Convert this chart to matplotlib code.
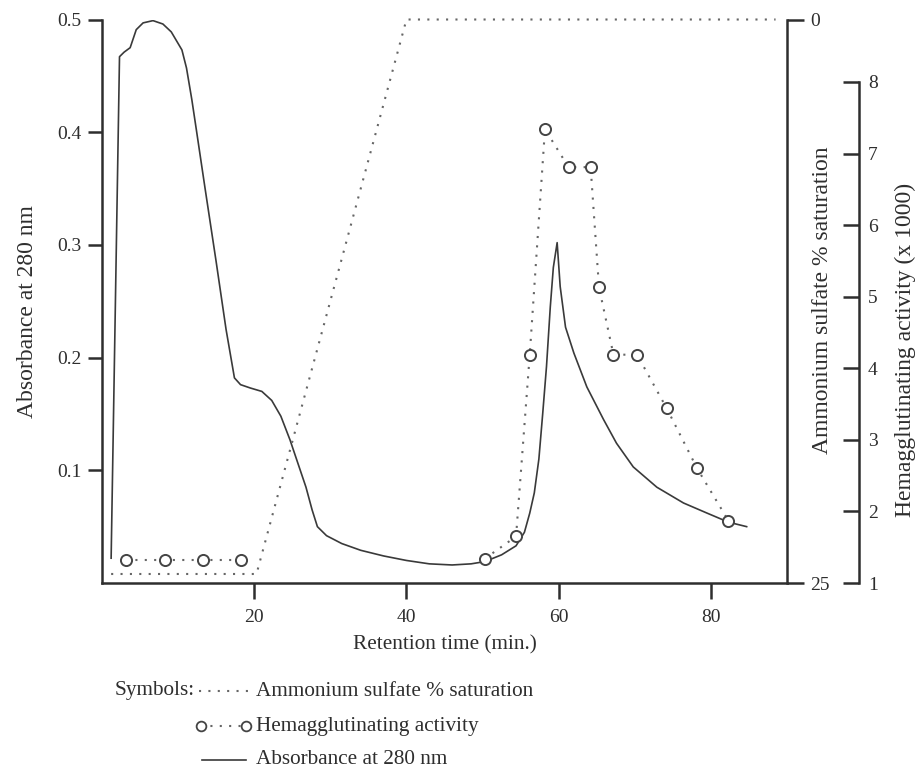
import matplotlib
matplotlib.use("Agg")
import matplotlib.pyplot as plt
from matplotlib.lines import Line2D

plt.rcParams['font.family'] = ['Liberation Serif', 'DejaVu Serif']

# ---------------- data ----------------
abs_time = [1.2, 2.3, 2.9, 3.7, 4.5, 5.4, 6.7, 8.0, 9.1, 10.5, 11.1, 11.8, 12.4,
            13.5, 15.0, 16.3, 17.4, 18.2, 19.5, 21.0, 22.3, 23.5, 24.7, 25.8,
            26.8, 27.6, 28.3, 29.5, 31.5, 34.0, 37.0, 40.0, 43.0, 46.0, 48.5,
            50.3, 52.5, 54.4, 55.5, 56.2, 56.8, 57.4, 57.9, 58.4, 58.9, 59.3,
            59.8, 60.2, 60.9, 62.0, 63.7, 65.9, 67.6, 69.8, 72.9, 76.4, 79.5,
            82.3, 84.7]
absorbance = [0.022, 0.467, 0.471, 0.475, 0.491, 0.497, 0.499, 0.496, 0.489,
              0.473, 0.457, 0.429, 0.402, 0.352, 0.285, 0.225, 0.182, 0.176,
              0.173, 0.170, 0.162, 0.148, 0.127, 0.105, 0.085, 0.065, 0.050,
              0.042, 0.035, 0.029, 0.024, 0.020, 0.017, 0.016, 0.017, 0.019,
              0.025, 0.033, 0.045, 0.062, 0.080, 0.110, 0.150, 0.192, 0.245,
              0.280, 0.302, 0.263, 0.227, 0.204, 0.174, 0.145, 0.124, 0.103,
              0.085, 0.071, 0.062, 0.054, 0.050]

sulfate_time = [1.2, 20.3, 40.0, 88.5]
sulfate_sat = [24.6, 24.6, 0.0, 0.0]

# hemagglutinating activity: two separately connected groups of fractions
ha_time_early = [3.2, 8.3, 13.3, 18.3]
ha_activity_early = [1.32, 1.32, 1.32, 1.32]
ha_time_late = [50.3, 54.4, 56.2, 58.2, 61.3, 64.2, 65.3, 67.2, 70.3, 74.2,
                78.2, 82.3]
ha_activity_late = [1.34, 1.65, 4.19, 7.34, 6.81, 6.81, 5.13, 4.19, 4.19, 3.44,
                    2.60, 1.87]

x_ticks = [20, 40, 60, 80]
abs_ticks = [0.1, 0.2, 0.3, 0.4, 0.5]
abs_ticklabels = ['0.1', '0.2', '0.3', '0.4', '0.5']
sat_ticks = [0, 25]
ha_ticks = [1, 2, 3, 4, 5, 6, 7, 8]

# ---------------- figure ----------------
W, H = 917, 772
fig = plt.figure(figsize=(W / 100, H / 100), dpi=100)
fig.patch.set_facecolor('white')

def fx(px):
    return px / W

def fy(py):
    return 1 - py / H

L, R, T, B = 102, 787, 19.5, 583
ax = fig.add_axes([fx(L), fy(B), (R - L) / W, (B - T) / H])

ink = '#2e2e2e'
dot_col = '#666666'
dot_style = (0, (1, 3.5))
spine_w = 1.8
tick_fs = 14
label_fs = 15.3
vlabel_fs = 17

ax.plot(abs_time, absorbance, color='#3a3a3a', lw=1.2, solid_joinstyle='round')
ax.set_xlim(0, 90)
ax.set_ylim(0, 0.5)
ax.set_xticks(x_ticks)
ax.set_yticks(abs_ticks)
ax.set_yticklabels(abs_ticklabels)
for s in ['top', 'right']:
    ax.spines[s].set_visible(False)
for s in ['left', 'bottom']:
    ax.spines[s].set_linewidth(spine_w)
    ax.spines[s].set_color(ink)
ax.tick_params(axis='x', direction='out', length=11.5, width=spine_w, pad=7,
               labelsize=tick_fs, colors=ink)
ax.tick_params(axis='y', direction='out', length=10, width=spine_w, pad=4.5,
               labelsize=tick_fs, colors=ink)
ax.set_xlabel('Retention time (min.)', fontsize=label_fs, color=ink)
ax.xaxis.set_label_coords(0.5, -(645 - B) / (B - T))
ax.xaxis.label.set_verticalalignment('center')
ax.set_ylabel('Absorbance at 280 nm', fontsize=vlabel_fs, color=ink)
ax.yaxis.set_label_coords(-(L - 28) / (R - L), (B - 312) / (B - T))
ax.yaxis.label.set_verticalalignment('center')

# ammonium sulfate axis (inverted)
ax2 = ax.twinx()
ax2.plot(sulfate_time, sulfate_sat, color=dot_col, lw=1.5,
         linestyle=dot_style, clip_on=False)
ax2.set_ylim(25, 0)
ax2.set_yticks(sat_ticks)
for s in ['top', 'left', 'bottom']:
    ax2.spines[s].set_visible(False)
ax2.spines['right'].set_linewidth(spine_w)
ax2.spines['right'].set_color(ink)
ax2.tick_params(axis='y', direction='out', length=12, width=spine_w, pad=5,
                labelsize=tick_fs, colors=ink)
ax2.set_ylabel('Ammonium sulfate % saturation', fontsize=vlabel_fs, color=ink)
ax2.yaxis.set_label_coords((822 - L) / (R - L), (B - 300) / (B - T))
ax2.yaxis.label.set_verticalalignment('center')
ax2.yaxis.label.set_rotation(90)

# hemagglutinating activity axis (offset)
ha_top_px, ha_bot_px = 82, 583
px_per_unit = (ha_bot_px - ha_top_px) / (ha_ticks[-1] - ha_ticks[0])
ha_ymax = ha_ticks[0] + (B - T) / px_per_unit
ax3 = ax.twinx()
for tt, vv in [(ha_time_early, ha_activity_early), (ha_time_late, ha_activity_late)]:
    ax3.plot(tt, vv, color=dot_col, lw=1.5, linestyle=dot_style,
             marker='o', markersize=8, markerfacecolor='white',
             markeredgecolor='#444444', markeredgewidth=1.4, clip_on=False)
ax3.set_ylim(ha_ticks[0], ha_ymax)
ax3.set_yticks(ha_ticks)
for s in ['top', 'left', 'bottom']:
    ax3.spines[s].set_visible(False)
ax3.spines['right'].set_position(('axes', (859 - L) / (R - L)))
ax3.spines['right'].set_bounds(ha_ticks[0], ha_ticks[-1])
ax3.spines['right'].set_linewidth(spine_w)
ax3.spines['right'].set_color(ink)
ax3.tick_params(axis='y', direction='in', length=11.5, width=spine_w, pad=6.5,
                labelsize=tick_fs, colors=ink)
ax3.set_ylabel('Hemagglutinating activity (x 1000)', fontsize=vlabel_fs, color=ink)
ax3.yaxis.set_label_coords((905 - L) / (R - L), (B - 350) / (B - T))
ax3.yaxis.label.set_verticalalignment('center')
ax3.yaxis.label.set_rotation(90)

# ---------------- legend (below the plot) ----------------
fig.text(fx(115), fy(691), 'Symbols:', fontsize=label_fs, color=ink,
         ha='left', va='center')
fig.add_artist(Line2D([fx(199), fx(250)], [fy(691), fy(691)],
                      transform=fig.transFigure, color=dot_col, lw=1.5,
                      linestyle=dot_style))
fig.text(fx(256), fy(691), 'Ammonium sulfate % saturation', fontsize=label_fs,
         color=ink, ha='left', va='center')

fig.add_artist(Line2D([fx(201), fx(246)], [fy(726), fy(726)],
                      transform=fig.transFigure, color=dot_col, lw=1.5,
                      linestyle=dot_style, marker='o', markersize=7,
                      markerfacecolor='white', markeredgecolor='#444444',
                      markeredgewidth=1.3))
fig.text(fx(256), fy(726), 'Hemagglutinating activity', fontsize=label_fs,
         color=ink, ha='left', va='center')

fig.add_artist(Line2D([fx(202), fx(246)], [fy(760), fy(760)],
                      transform=fig.transFigure, color='#3a3a3a', lw=1.2))
fig.text(fx(256), fy(760), 'Absorbance at 280 nm', fontsize=label_fs,
         color=ink, ha='left', va='center')

fig.savefig('out.png', dpi=100, facecolor='white')
